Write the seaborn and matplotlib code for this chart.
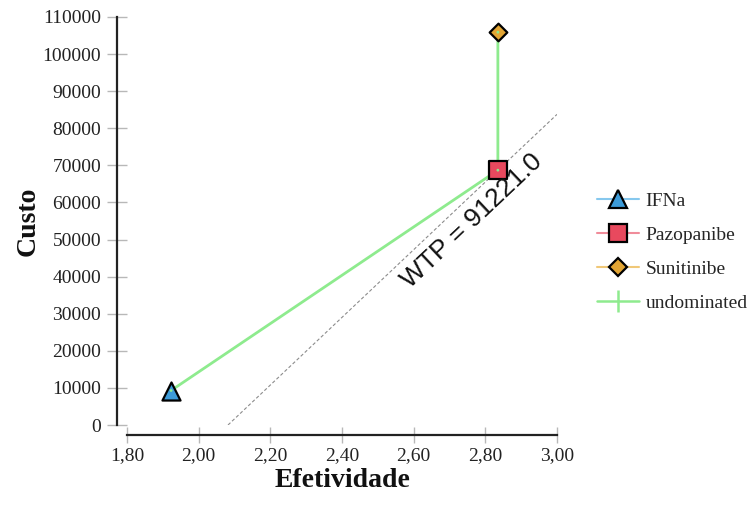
import math
import numpy as np
import pandas as pd
import matplotlib
matplotlib.use("Agg")
import matplotlib.pyplot as plt
from matplotlib.lines import Line2D
import seaborn as sns

# ---- data ----
strategies = ["IFNa", "Pazopanibe", "Sunitinibe"]
efetividade = [1.923, 2.835, 2.835]
custo = [9300, 68700, 105900]
undominated = ["IFNa", "Pazopanibe", "Sunitinibe"]
wtp = 91221.0
wtp_anchor = "Pazopanibe"
x_ticks = [1.80, 2.00, 2.20, 2.40, 2.60, 2.80, 3.00]
y_ticks = [0, 10000, 20000, 30000, 40000, 50000, 60000, 70000, 80000, 90000, 100000, 110000]

fill_colors = {"IFNa": "#3D9BD8", "Pazopanibe": "#E8495E", "Sunitinibe": "#E2A534"}
line_colors = {"IFNa": "#86C8EE", "Pazopanibe": "#F08C9A", "Sunitinibe": "#F0C878"}
markers = {"IFNa": "^", "Pazopanibe": "s", "Sunitinibe": "D"}
msizes = {"IFNa": 13, "Pazopanibe": 13, "Sunitinibe": 9}
green = "#8EEB8E"

df = pd.DataFrame({"Estrategia": strategies, "Efetividade": efetividade, "Custo": custo})

sns.set_theme(style="white")
plt.rcParams["font.family"] = ["Liberation Serif", "DejaVu Serif"]

fig = plt.figure(figsize=(7.51, 5.05), dpi=100)
W, H = 751, 505
ax = fig.add_axes([127 / W, 1 - 425 / H, 430 / W, 408 / H])

ax.set_xlim(x_ticks[0], x_ticks[-1])
ax.set_ylim(y_ticks[0], y_ticks[-1])

# undominated frontier
und = df.set_index("Estrategia").loc[undominated].reset_index()
sns.lineplot(data=und, x="Efetividade", y="Custo", sort=False, estimator=None,
             color=green, lw=2, ax=ax, zorder=2, legend=False)

# WTP line through anchor
ae = df.loc[df.Estrategia == wtp_anchor, "Efetividade"].iloc[0]
ac = df.loc[df.Estrategia == wtp_anchor, "Custo"].iloc[0]
x0 = ae - ac / wtp
x1 = x_ticks[-1]
ax.plot([x0, x1], [0, ac + wtp * (x1 - ae)], ls=(0, (3, 2)), color="#8c8c8c", lw=0.8, zorder=1)

# strategy markers
for s in strategies:
    sub = df[df.Estrategia == s]
    sns.scatterplot(data=sub, x="Efetividade", y="Custo", marker=markers[s],
                    s=msizes[s] ** 2, color=fill_colors[s], edgecolor="black",
                    linewidth=1.6, ax=ax, zorder=3, legend=False)
sns.scatterplot(data=und, x="Efetividade", y="Custo", s=4, color=green,
                edgecolor="none", ax=ax, zorder=4, legend=False)

# WTP text
xt = 2.726
yt = ac + wtp * (xt - ae)
p0 = ax.transData.transform((x0, 0))
p1 = ax.transData.transform((x1, ac + wtp * (x1 - ae)))
ang = math.degrees(math.atan2(p1[1] - p0[1], p1[0] - p0[0]))
nx, ny = math.sin(math.radians(ang)), -math.cos(math.radians(ang))
off = 13.5
ax.annotate(f"WTP = {wtp:.1f}", xy=(xt, yt), xytext=(nx * off, ny * off),
            textcoords="offset points", rotation=ang, rotation_mode="anchor",
            ha="center", va="center", fontsize=19,
            family=["Liberation Sans", "DejaVu Sans"], color="#111111")

# axes styling
ax.set_xticks(x_ticks)
ax.set_xticklabels([f"{v:.2f}".replace(".", ",") for v in x_ticks])
ax.set_yticks(y_ticks)
ax.set_yticklabels([str(v) for v in y_ticks])
for side in ["top", "right"]:
    ax.spines[side].set_visible(False)
for side in ["left", "bottom"]:
    ax.spines[side].set_position(("outward", 7.2))
    ax.spines[side].set_color("#222222")
    ax.spines[side].set_linewidth(1.6)
ax.tick_params(axis="both", direction="inout", width=1, color="#b8b8b8",
               labelsize=14, labelcolor="#222222", bottom=True, left=True,
               top=False, right=False)
ax.tick_params(axis="y", length=14, pad=4.3)
ax.tick_params(axis="x", length=11.5, pad=3)
ax.grid(False)
ax.set_facecolor("white")

ax.set_xlabel("Efetividade", fontsize=20, fontweight="bold", color="#111111", labelpad=3)
ax.set_ylabel("Custo", fontsize=20, fontweight="bold", color="#111111", labelpad=1.5)

# legend
handles = []
for s in strategies:
    handles.append(Line2D([], [], color=line_colors[s], lw=1.5, marker=markers[s],
                          markersize=msizes[s], markerfacecolor=fill_colors[s],
                          markeredgecolor="black", markeredgewidth=1.6))
handles.append(Line2D([], [], color=green, lw=1.8, marker="|", markersize=16,
                      markeredgewidth=1.8, markeredgecolor=green))
fig.legend(handles, strategies + ["undominated"], loc="upper left",
           bbox_to_anchor=(597 / W, 1 - 192 / H), frameon=False, fontsize=14,
           handlelength=2.15, handletextpad=0.35, labelspacing=0.85,
           borderpad=0, borderaxespad=0)

fig.savefig("out.png", dpi=100, facecolor="white")
